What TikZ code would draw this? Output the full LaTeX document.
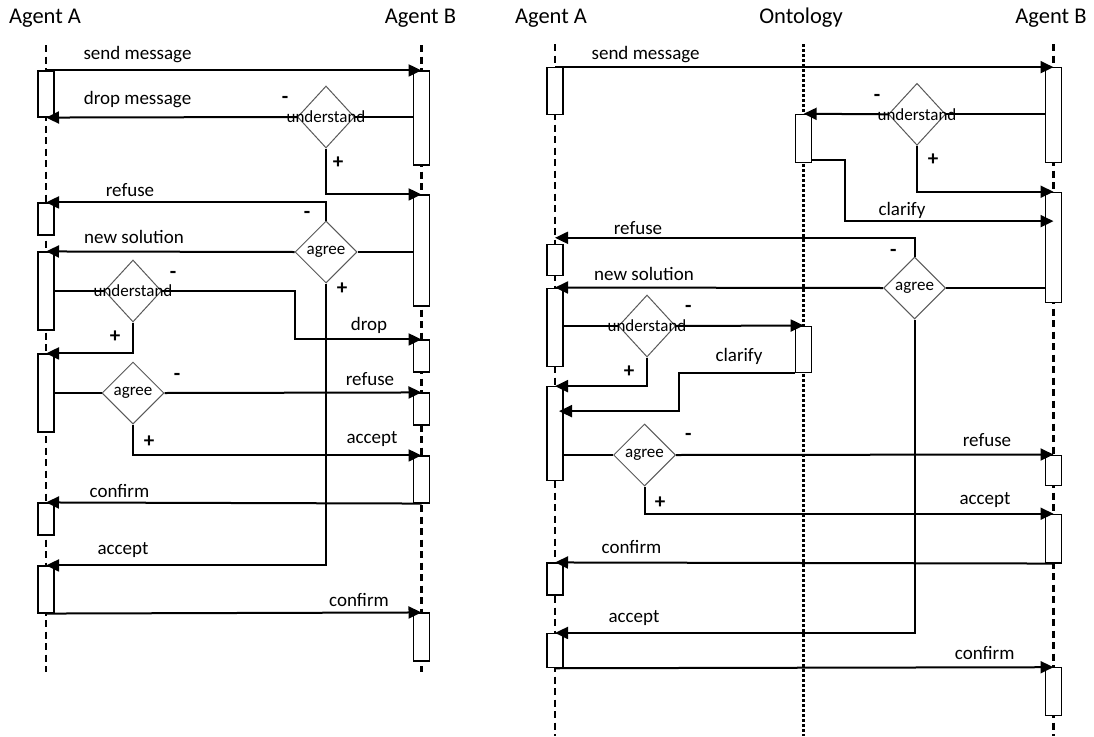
\documentclass[tikz,border=0pt]{standalone}
\usepackage{fontspec}
\setmainfont{Carlito}
\usetikzlibrary{arrows.meta,shapes.geometric,calc}
\begin{document}
\begin{tikzpicture}[x=1pt,y=-1pt,
  life/.style={line width=2.6pt, dash pattern=on 7pt off 4.5pt},
  ontol/.style={line width=3pt, dash pattern=on 3pt off 2pt},
  actbox/.style={draw, fill=white, line width=1.1pt, minimum width=16pt, inner sep=0pt, rectangle},
  msg/.style={line width=2pt, -{Triangle[length=13pt,width=12pt]}},
  link/.style={line width=2pt},
  dia/.style={diamond, draw=gray!70!black, line width=1pt, fill=white, minimum height=62pt, inner sep=0pt},
  undia/.style={dia, minimum width=57pt},
  agdia/.style={dia, minimum width=62pt},
  dlab/.style={font=\fontsize{17}{18}\selectfont, inner sep=0pt},
  mlab/.style={font=\fontsize{19}{22}\selectfont, inner sep=0pt},
  alab/.style={font=\fontsize{22.5}{26}\selectfont, inner sep=0pt},
  sgn/.style={font=\bfseries\fontsize{21}{22}\selectfont, inner sep=0pt},
]
\useasboundingbox (0,0) rectangle (1094,736);

% ---------- headers ----------
\node[alab] (hLA) at (45,18) {Agent A};
\node[alab] (hLB) at (420.5,18) {Agent B};
\node[alab] (hRA) at (551,18) {Agent A};
\node[alab] (hRO) at (801,18) {Ontology};
\node[alab] (hRB) at (1051,18) {Agent B};

% ---------- lifelines ----------
\coordinate (LAt) at (46,45);   \coordinate (LAb) at (46,672);
\coordinate (LBt) at (421.5,45); \coordinate (LBb) at (421.5,672);
\coordinate (RAt) at (555,44);  \coordinate (RAb) at (555,736);
\coordinate (ROt) at (803.7,44); \coordinate (ROb) at (803.7,736);
\coordinate (RBt) at (1053.5,44); \coordinate (RBb) at (1053.5,736);
\draw[life] (LAt) -- (LAb);
\draw[life] (LBt) -- (LBb);
\draw[life] (RAt) -- (RAb);
\draw[ontol] (ROt) -- (ROb);
\draw[life] (RBt) -- (RBb);

% ---------- activation boxes, left ----------
\node[actbox, minimum height=46pt] (LA1) at (46,94) {};
\node[actbox, minimum height=32pt] (LA2) at (46,219) {};
\node[actbox, minimum height=78pt] (LA3) at (46,291) {};
\node[actbox, minimum height=78pt] (LA4) at (46,393) {};
\node[actbox, minimum height=32pt] (LA5) at (46,519) {};
\node[actbox, minimum height=47pt] (LA6) at (46,589.5) {};
\node[actbox, minimum height=94pt] (LB1) at (421.5,118) {};
\node[actbox, minimum height=111pt] (LB2) at (421.5,250.5) {};
\node[actbox, minimum height=32pt] (LB3) at (421.5,356) {};
\node[actbox, minimum height=32pt] (LB4) at (421.5,409) {};
\node[actbox, minimum height=47pt] (LB5) at (421.5,479.5) {};
\node[actbox, minimum height=48pt] (LB6) at (421.5,637) {};

% ---------- activation boxes, right ----------
\node[actbox, minimum height=46.6pt] (RA1) at (555,91) {};
\node[actbox, minimum height=31.7pt] (RA2) at (555,259.9) {};
\node[actbox, minimum height=78.7pt] (RA3) at (555,327.4) {};
\node[actbox, minimum height=94pt] (RA4) at (555,433.7) {};
\node[actbox, minimum height=32pt] (RA5) at (555,579) {};
\node[actbox, minimum height=34.2pt] (RA6) at (555,650.6) {};
\node[actbox, minimum height=94.6pt] (RB1) at (1053.5,115) {};
\node[actbox, minimum height=110.4pt] (RB2) at (1053.5,247.5) {};
\node[actbox, minimum height=30.7pt] (RB3) at (1053.5,470.4) {};
\node[actbox, minimum height=48.7pt] (RB4) at (1053.5,538.65) {};
\node[actbox, minimum height=47.3pt] (RB5) at (1053.5,691.4) {};
\node[actbox, minimum height=48pt] (RO1) at (803.7,138.3) {};
\node[actbox, minimum height=46.7pt] (RO2) at (803.7,349.4) {};

% ---------- decision diamonds ----------
\node[undia] (D1) at (326,117) {};
\node[agdia] (D2) at (326,252) {};
\node[undia] (D3) at (133,291) {};
\node[agdia] (D4) at (133,393) {};
\node[undia] (E1) at (917,114.3) {};
\node[agdia] (E2) at (914.6,288) {};
\node[undia] (E3) at (647,326) {};
\node[agdia] (E4) at (644.5,455) {};

% ---------- connectors, left ----------
\draw[msg] (LA1.north) -- (LB1.north);
\draw[link] (D1.east -| LB1.west) -- (D1.east);
\draw[msg] (D1.west) -- (LA1.south);
\draw[msg] (D1.south) |- (LB2.north);
\draw[link] (D2.east -| LB2.west) -- (D2.east);
\draw[msg] (D2.west) -- (LA3.north);
\draw[msg] (D2.north) |- (LA2.north);
\draw[msg] (D2.south) |- (LA6.north);
\draw[link] (LA3.east) -- (D3.west);
\draw[msg] (D3.east) -- ++(132.5,0) |- (LB3.north);
\draw[msg] (D3.south) |- (LA4.north);
\draw[link] (LA4.east) -- (D4.west);
\draw[msg] (D4.east) -- (LB4.north);
\draw[msg] (D4.south) |- (LB5.north);
\draw[msg] (LB5.south) -- (LA5.north);
\draw[msg] (LA6.south) -- (LB6.north);

% ---------- connectors, right ----------
\draw[msg] (RA1.north) -- (RB1.north);
\draw[link] (E1.east -| RB1.west) -- (E1.east);
\draw[msg] (E1.west) -- (RO1.north);
\draw[msg] (E1.south) |- (RB2.north);
\draw[msg] ($(RO1.south east)+(0,-3)$) -- ++(33,0) |- ($(RB2.north)+(0,29.4)$);
\draw[msg] (E2.north) |- ($(RA2.north)+(0,-5.7)$);
\draw[link] (E2.east -| RB2.west) -- (E2.east);
\draw[msg] (E2.west) -- (RA3.north);
\draw[msg] (E2.south) |- (RA6.north);
\draw[link] (E3.west -| RA3.east) -- (E3.west);
\draw[msg] (E3.east) -- (RO2.north);
\draw[msg] (E3.south) |- (RA4.north);
\draw[msg] (RO2.south west) -- ++(-116.4,0) |- ($(RA4.north)+(4,25)$);
\draw[link] (E4.west -| RA4.east) -- (E4.west);
\draw[msg] (E4.east) -- (RB3.north);
\draw[msg] (E4.south) |- (RB4.north);
\draw[msg] (RB4.south) -- (RA5.north);
\draw[msg] (RA6.south) -- (RB5.north);

% ---------- diamond texts ----------
\node[dlab] (tD1) at (D1) {understand};
\node[dlab] (tD2) at (D2) {agree};
\node[dlab] (tD3) at (D3) {understand};
\node[dlab] (tD4) at (D4) {agree};
\node[dlab] (tE1) at (E1) {understand};
\node[dlab] (tE2) at (E2) {agree};
\node[dlab] (tE3) at (E3) {understand};
\node[dlab] (tE4) at (E4) {agree};

% ---------- signs ----------
\node[sgn] (s1) at (285,100) {-};
\node[sgn] (s2) at (338,163) {+};
\node[sgn] (s3) at (307,215) {-};
\node[sgn] (s4) at (342,289) {+};
\node[sgn] (s5) at (173,275) {-};
\node[sgn] (s6) at (115,337) {+};
\node[sgn] (s7) at (177,377) {-};
\node[sgn] (s8) at (149,442) {+};
\node[sgn] (s9) at (877,98) {-};
\node[sgn] (s10) at (933,160) {+};
\node[sgn] (s11) at (893.4,253.3) {-};
\node[sgn] (s12) at (688.4,309.3) {-};
\node[sgn] (s13) at (629,371.7) {+};
\node[sgn] (s14) at (688.4,436.7) {-};
\node[sgn] (s15) at (660.2,502.3) {+};

% ---------- message labels, left ----------
\node[mlab] (m1) at (137.5,55) {send message};
\node[mlab] (m2) at (137.5,100) {drop message};
\node[mlab] (m3) at (130,190) {refuse};
\node[mlab] (m4) at (134,237) {new solution};
\node[mlab] (m5) at (369,325) {drop};
\node[mlab] (m6) at (370,379) {refuse};
\node[mlab] (m7) at (372,439) {accept};
\node[mlab] (m8) at (119.5,491) {confirm};
\node[mlab] (m9) at (123,550) {accept};
\node[mlab] (m10) at (359,600) {confirm};

% ---------- message labels, right ----------
\node[mlab] (n1) at (645.6,55) {send message};
\node[mlab] (n2) at (638,228) {refuse};
\node[mlab] (n3) at (644,274.3) {new solution};
\node[mlab] (n4) at (902,210.7) {clarify};
\node[mlab] (n5) at (739,356) {clarify};
\node[mlab] (n6) at (987,440) {refuse};
\node[mlab] (n7) at (985,500) {accept};
\node[mlab] (n8) at (631.5,547.3) {confirm};
\node[mlab] (n9) at (634,617.7) {accept};
\node[mlab] (n10) at (984.7,652.7) {confirm};
\end{tikzpicture}
\end{document}
